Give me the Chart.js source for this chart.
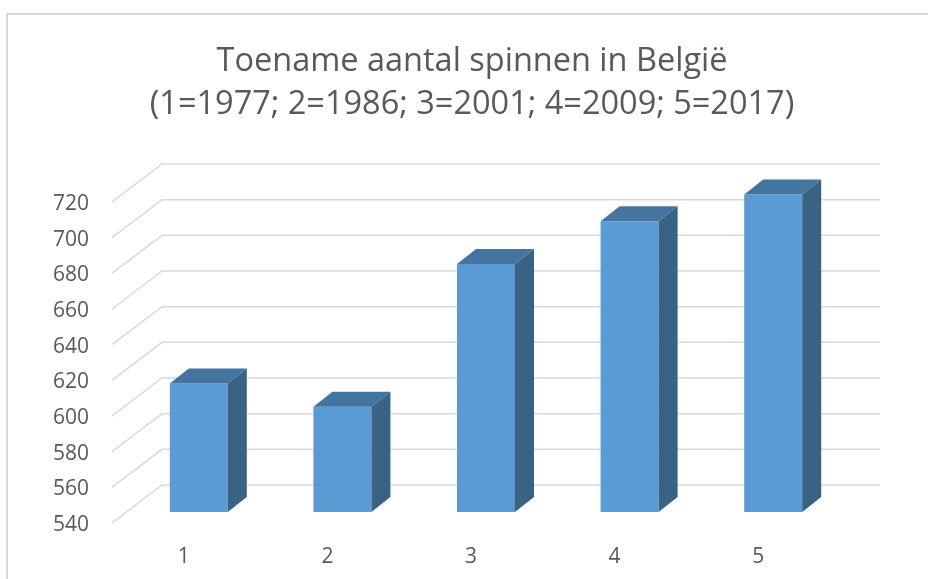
<!DOCTYPE html>
<html>
<head>
<meta charset="utf-8">
<script src="https://cdn.jsdelivr.net/npm/chart.js@4/dist/chart.umd.min.js"></script>
<style>
  html, body { margin: 0; padding: 0; background: #fff; overflow: hidden; }
  #wrap { position: relative; width: 928px; height: 579px; }
  #frame { position: absolute; left: 6px; top: 13px; width: 940px; height: 600px; border: 2px solid #d9d9d9; }
  canvas { position: absolute; left: 0; top: 0; }
</style>
</head>
<body>
<div id="wrap">
  <div id="frame"></div>
  <canvas id="chart" width="928" height="579"></canvas>
</div>
<script>
const categories = ["1", "2", "3", "4", "5"];
const spiders = [612, 599, 679, 703, 718];
const yMin = 540;
const yMax = 720;
const yStep = 20;
const titleLines = ["Toename aantal spinnen in België", "(1=1977; 2=1986; 3=2001; 4=2009; 5=2017)"];

// 3d look: offsets from the bar-front plane
const FRONT = { dx: -15, dy: 11 };
const BACK = { dx: 35, dy: -27 };
const BAR_DEPTH = { dx: 19, dy: -15 };

const textColor = "#595959";
const gridColor = "#d9d9d9";

const depthPlugin = {
  id: "depth3d",
  beforeDatasetsDraw(chart) {
    const ctx = chart.ctx;
    const y = chart.scales.y;
    const area = chart.chartArea;
    ctx.save();
    ctx.strokeStyle = gridColor;
    ctx.lineWidth = 1.5;
    y.ticks.forEach(t => {
      const py = y.getPixelForValue(t.value);
      ctx.beginPath();
      ctx.moveTo(area.left + FRONT.dx, py + FRONT.dy);
      ctx.lineTo(area.left + BACK.dx, py + BACK.dy);
      ctx.lineTo(area.right + BACK.dx, py + BACK.dy);
      ctx.stroke();
    });
    ctx.restore();
  },
  afterDatasetsDraw(chart) {
    const ctx = chart.ctx;
    const meta = chart.getDatasetMeta(0);
    const area = chart.chartArea;
    ctx.save();
    meta.data.forEach(bar => {
      const p = bar.getProps(["x", "y", "base", "width"], true);
      const x0 = p.x - p.width / 2;
      const x1 = p.x + p.width / 2;
      const top = p.y;
      const bottom = Math.min(p.base, area.bottom);
      // top face
      ctx.fillStyle = "#4375a0";
      ctx.beginPath();
      ctx.moveTo(x0, top);
      ctx.lineTo(x1, top);
      ctx.lineTo(x1 + BAR_DEPTH.dx, top + BAR_DEPTH.dy);
      ctx.lineTo(x0 + BAR_DEPTH.dx, top + BAR_DEPTH.dy);
      ctx.closePath();
      ctx.fill();
      // side face
      ctx.fillStyle = "#386385";
      ctx.beginPath();
      ctx.moveTo(x1, top);
      ctx.lineTo(x1 + BAR_DEPTH.dx, top + BAR_DEPTH.dy);
      ctx.lineTo(x1 + BAR_DEPTH.dx, bottom + BAR_DEPTH.dy);
      ctx.lineTo(x1, bottom);
      ctx.closePath();
      ctx.fill();
    });
    ctx.restore();
  }
};

new Chart(document.getElementById("chart").getContext("2d"), {
  type: "bar",
  data: {
    labels: categories,
    datasets: [{
      label: "Spinnen",
      data: spiders,
      base: yMin,
      backgroundColor: "#5b9bd5",
      borderWidth: 0,
      barPercentage: 0.404,
      categoryPercentage: 1
    }]
  },
  options: {
    responsive: false,
    animation: false,
    layout: { padding: { left: 16, right: 0, top: 0, bottom: 0 } },
    plugins: {
      legend: { display: false },
      tooltip: { enabled: false },
      title: {
        display: true,
        text: titleLines,
        color: textColor,
        font: { family: "'Open Sans', sans-serif", size: 32.5, weight: "normal", lineHeight: 1.323 },
        padding: { top: 40, bottom: 65 }
      }
    },
    scales: {
      x: {
        grid: { display: false, drawTicks: false },
        border: { display: false },
        ticks: {
          color: textColor,
          font: { family: "'Open Sans', sans-serif", size: 21 },
          labelOffset: FRONT.dx,
          padding: 32
        },
        afterFit(scale) { scale.height = 67; }
      },
      y: {
        min: yMin,
        max: yMax,
        grid: { display: false, drawTicks: false },
        border: { display: false },
        ticks: {
          stepSize: yStep,
          color: textColor,
          font: { family: "'Open Sans', sans-serif", size: 21 },
          labelOffset: FRONT.dy + 2,
          padding: 38
        },
        afterFit(scale) { scale.width = 111; }
      },
      yRight: {
        position: "right",
        display: true,
        grid: { display: false, drawTicks: false },
        border: { display: false },
        ticks: { display: false },
        afterFit(scale) { scale.width = 83; }
      }
    }
  },
  plugins: [depthPlugin]
});
</script>
</body>
</html>
